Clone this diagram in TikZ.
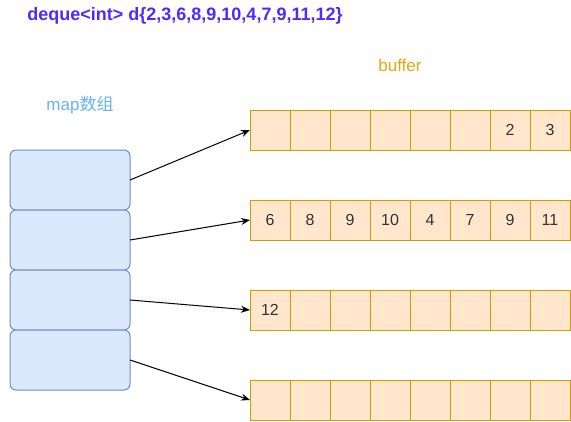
\documentclass[tikz,border=0pt]{standalone}
\usepackage{fontspec}
\setmainfont{Liberation Sans}
\newfontfamily\cjk{Noto Sans CJK SC}
\usetikzlibrary{arrows.meta,positioning}
\definecolor{mapfill}{HTML}{DAE8FC}
\definecolor{mapline}{HTML}{6C8EBF}
\definecolor{buffill}{HTML}{FFE6CC}
\definecolor{bufline}{HTML}{D79B00}
\definecolor{titleblue}{HTML}{4C2BFF}
\definecolor{maptext}{HTML}{66B2FF}
\definecolor{buftext}{HTML}{E3A812}
\begin{document}
\begin{tikzpicture}[
        x=1pt, y=-1pt,
        slot/.style={rectangle, rounded corners=6pt, draw=mapline, fill=mapfill, line width=1pt,
          minimum width=120pt, minimum height=60pt, inner sep=0pt, outer sep=0pt},
        cell/.style={rectangle, draw=bufline, fill=buffill, line width=1pt, minimum size=40pt,
          inner sep=0pt, outer sep=0pt, font=\fontsize{16}{16}\selectfont, text=black!80},
        caption/.style={font=\fontsize{17}{17}\selectfont},
        link/.style={-{Stealth[length=9pt,width=7pt,inset=3pt]}, line width=1pt}
      ]
        \useasboundingbox (0,0) rectangle (571,421);

        \node (title) [caption, font=\bfseries\fontsize{18}{18}\selectfont, text=titleblue] at (185,16) {deque<int> d\{2,3,6,8,9,10,4,7,9,11,12\}};
        \node (maplabel) [caption, text=maptext] at (80,105) {map{\cjk 数组}};
        \node (buflabel) [caption, text=buftext] at (400,65) {buffer};

        % map array
        \node (m1) [slot] at (70,180) {};
        \node (m2) [slot, below=0pt of m1] {};
        \node (m3) [slot, below=0pt of m2] {};
        \node (m4) [slot, below=0pt of m3] {};

        % buffers
        \foreach \r/\y/\vals in {1/130/{{},{},{},{},{},{},2,3}, 2/220/{6,8,9,10,4,7,9,11},
            3/310/{12,{},{},{},{},{},{},{}}, 4/400/{{},{},{},{},{},{},{},{}}}
          \foreach \v [count=\c] in \vals
            \node (b\r-\c) [cell] at ({270+40*(\c-1)},\y) {\v};

        \draw[link] (m1.east) -- (b1-1.west);
        \draw[link] (m2.east) -- (b2-1.west);
        \draw[link] (m3.east) -- (b3-1.west);
        \draw[link] (m4.east) -- (b4-1.west);
      \end{tikzpicture}
\end{document}
